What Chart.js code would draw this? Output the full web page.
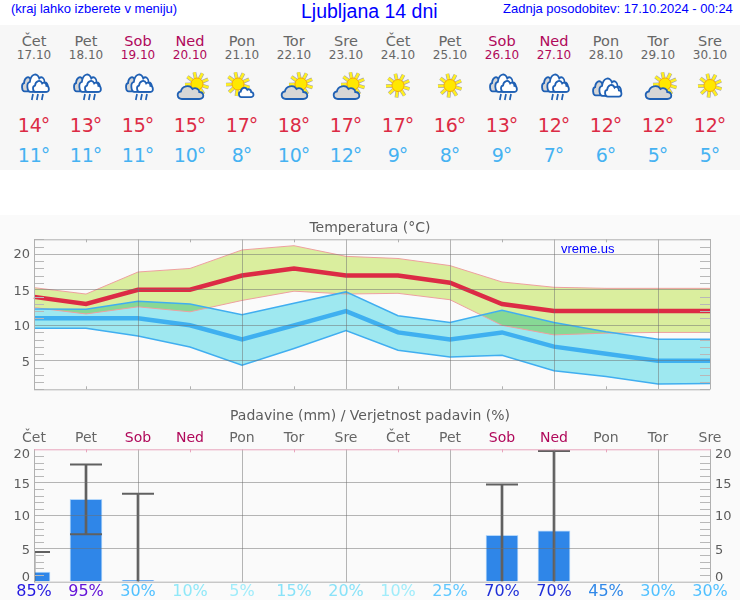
<!DOCTYPE html>
<html lang="sl">
<head>
<meta charset="utf-8">
<title>Ljubljana 14 dni</title>
<script src="https://cdn.jsdelivr.net/npm/chart.js@4"></script>
<style>
    html, body { margin: 0; padding: 0; background: #fafafa; }
    body { position: relative; width: 740px; height: 600px; overflow: hidden; font-family: "DejaVu Sans", sans-serif; }
    #head { position: absolute; left: 0; top: 0; width: 740px; height: 25px; background: #fff; color: #0000ff; font-family: "Liberation Sans", sans-serif; }
    #head span { position: absolute; white-space: nowrap; }
    #panel { position: absolute; left: 0; top: 25px; width: 740px; height: 145px; background: #f7f7f7; }
    #gap { position: absolute; left: 0; top: 170px; width: 740px; height: 45px; background: #fff; }
    .cell { position: absolute; top: 0; width: 52px; margin-left: -26px; height: 145px; text-align: center; white-space: nowrap; }
    .cell div { position: absolute; left: -10px; right: -10px; }
    .cell svg { position: absolute; left: 6px; top: 44px; }
    canvas { position: absolute; left: 0; }
    #brand { position: absolute; left: 561px; top: 241px; color: #0000ff; font: 13px "Liberation Sans", sans-serif; }
</style>
</head>
<body>
<div id="head">
    <span style="left:11px;top:1px;font-size:13px">(kraj lahko izberete v meniju)</span>
    <span style="left:301px;top:0;font-size:19.5px">Ljubljana 14 dni</span>
    <span style="left:503px;top:1px;font-size:13px">Zadnja posodobitev: 17.10.2024 - 00:24</span>
</div>
<div id="panel"></div>
<div id="gap"></div>
<canvas id="tempChart" width="740" height="185" style="top:215px"></canvas>
<canvas id="rainChart" width="740" height="200" style="top:400px"></canvas>
<div id="brand">vreme.us</div>

<script>
// Data
const dayNames = ['Čet', 'Pet', 'Sob', 'Ned', 'Pon', 'Tor', 'Sre', 'Čet', 'Pet', 'Sob', 'Ned', 'Pon', 'Tor', 'Sre'];
const dayDates = ['17.10', '18.10', '19.10', '20.10', '21.10', '22.10', '23.10', '24.10', '25.10', '26.10', '27.10', '28.10', '29.10', '30.10'];
const weatherKinds = ['rain', 'rain', 'rain', 'sunCloud', 'cloudSun', 'sunCloud', 'sunCloud', 'sun', 'sun', 'rain', 'rain', 'clouds', 'sunCloud', 'sun'];

const tempHigh = [14, 13, 15, 15, 17, 18, 17, 17, 16, 13, 12, 12, 12, 12];
const tempLow = [11, 11, 11, 10, 8, 10, 12, 9, 8, 9, 7, 6, 5, 5];
const highBandTop = [15.3, 14.4, 17.5, 18.0, 20.6, 21.2, 19.7, 19.4, 18.4, 16.1, 15.35, 15.2, 15.2, 15.2];
const highBandBottom = [12.5, 11.6, 12.6, 11.9, 13.5, 14.8, 14.4, 14.5, 13.6, 10.0, 8.65, 8.9, 9.0, 9.0];
const lowBandTop = [12.3, 12.25, 13.4, 13.0, 11.5, 13.1, 14.7, 11.35, 10.4, 12.1, 10.4, 9.1, 8.05, 8.05];
const lowBandBottom = [9.6, 9.6, 8.5, 6.95, 4.4, 6.75, 9.25, 6.5, 5.55, 5.8, 3.6, 2.8, 1.75, 1.8];
const tempTicks = [5, 10, 15, 20];

const rainAmount = [1.45, 12.45, 0.2, null, null, null, null, null, null, 7.0, 7.7, null, null, null];
const rainMax = [4.5, 17.7, 13.3, null, null, null, null, null, null, 14.7, 19.75, null, null, null];
const rainMin = [0, 7.15, 0, null, null, null, null, null, null, 0, 0, null, null, null];
const rainMinCap = [null, 7.15, null, null, null, null, null, null, null, null, null, null, null, null];
const rainChance = [85, 95, 30, 10, 5, 15, 20, 10, 25, 70, 70, 45, 30, 30];
const rainTicks = [0, 5, 10, 15, 20];

// Styles
const chanceColors = ['#2318e0', '#6414d8', '#50c0ff', '#90e8f8', '#a0ecfa', '#88e2f8', '#88e2f8', '#a0ecfa', '#60c8ff', '#2030d8', '#2030d8', '#3088e8', '#50c0ff', '#50c0ff'];
const tempTickNudge = [1.4, 1.4, 1.7, 0.5];
const rainTickNudge = [-4.4, 1.7, 1.5, 2, 5.7];
const GREY_TEXT = '#5c5c5c';
const GRID = 'rgba(110,110,110,0.5)';
const MINOR = '#b8b8b8';
const PINK = '#e8a4bc';

function dayColor(i) {
    return (i % 7 === 2 || i % 7 === 3) ? '#b0085a' : '#666666';
}

// Header panel with the 14 day columns
const OUTLINE = '#1f60b4';
const CLOUD = 'M6 14C1 14 0 7 5 6.5C6 1 14-1 17 4C20 2 24 4 24 7C29 7 30 14 24 14Z';

function cloudShape(x, y, sx, sy, fill) {
    return `<path d="${CLOUD}" transform="translate(${x} ${y}) scale(${sx} ${sy})" fill="${fill}" stroke="${OUTLINE}" stroke-width="1.8" vector-effect="non-scaling-stroke"/>`;
}

function sunShape(cx, cy, r, rays) {
    let out = '';
    for (let i = 0; i < 9; i++) {
        const a = i * Math.PI * 2 / 9 + 0.3;
        const line = `x1="${cx + Math.cos(a) * r}" y1="${cy + Math.sin(a) * r}" x2="${cx + Math.cos(a) * rays}" y2="${cy + Math.sin(a) * rays}"`;
        out += `<line ${line} stroke="#a0a0b8" stroke-width="3.8"/><line ${line} stroke="#fff020" stroke-width="2.6"/>`;
    }
    return out + `<circle cx="${cx}" cy="${cy}" r="${r}" fill="#ffe800" stroke="#f6a800" stroke-width="1"/>`;
}

function weatherIcon(kind) {
    let shapes = '';
    if (kind === 'sun') {
        shapes = sunShape(20, 16.5, 6, 12);
    } else if (kind === 'sunCloud') {
        shapes = sunShape(27, 15, 6, 12) + cloudShape(6, 16, 0.97, 1, '#d6d6d6');
    } else if (kind === 'cloudSun') {
        shapes = sunShape(16, 15, 6, 12) + cloudShape(16, 18, 0.55, 0.72, '#ffffff');
    } else if (kind === 'clouds') {
        shapes = cloudShape(6, 11, 0.62, 1.1, '#d6d6d6') + cloudShape(12, 8, 0.82, 1.35, '#ffffff') + cloudShape(18, 15, 0.62, 0.9, '#ffffff');
    } else {
        shapes = cloudShape(7, 7, 0.6, 1.1, '#d6d6d6') + cloudShape(12, 4, 0.78, 1.35, '#ffffff') + cloudShape(18, 11, 0.6, 0.85, '#ffffff');
        [19, 24, 29].forEach(x => {
            shapes += `<line x1="${x}" y1="25" x2="${x - 1.2}" y2="31" stroke="${OUTLINE}" stroke-width="1.7"/>`;
        });
    }
    return `<svg width="40" height="36" viewBox="0 0 40 36">${shapes}</svg>`;
}

const panel = document.getElementById('panel');
dayNames.forEach((name, i) => {
    const cell = document.createElement('div');
    cell.className = 'cell';
    cell.style.left = (34 + 52 * i) + 'px';
    cell.innerHTML =
        `<div style="top:8px;font-size:14.5px;color:${dayColor(i)}">${name}</div>` +
        `<div style="top:23px;font-size:12px;color:${dayColor(i)}">${dayDates[i]}</div>` +
        weatherIcon(weatherKinds[i]) +
        `<div style="top:89px;font-size:19px;color:#dc2b45">${tempHigh[i]}<span style="margin-left:-1px">°</span></div>` +
        `<div style="top:119px;font-size:19px;color:#45b2f2">${tempLow[i]}<span style="margin-left:-1px">°</span></div>`;
    panel.appendChild(cell);
});

function frameTicks(topColor, bottomTicks) {
    return {
        id: 'frameTicks',
        afterDraw(chart) {
            const { ctx, chartArea: a, scales } = chart;
            ctx.save();
            ctx.lineWidth = 1;
            ctx.strokeStyle = MINOR;
            ctx.beginPath();
            scales.y.ticks.forEach(t => {
                if (t.value % 5 === 0) return;
                const py = Math.round(scales.y.getPixelForValue(t.value)) + 0.5;
                ctx.moveTo(a.left, py); ctx.lineTo(a.left + 10, py);
                ctx.moveTo(a.right - 10, py); ctx.lineTo(a.right, py);
            });
            ctx.stroke();
            ctx.strokeStyle = topColor;
            ctx.beginPath();
            scales.x.ticks.forEach((t, i) => {
                if (i % 2 === 0) return;
                const px = Math.round(scales.x.getPixelForTick(i)) + 0.5;
                ctx.moveTo(px, a.top); ctx.lineTo(px, a.top + 3);
                if (bottomTicks) { ctx.moveTo(px, a.bottom - 3); ctx.lineTo(px, a.bottom); }
            });
            ctx.stroke();
            ctx.strokeStyle = '#b0b0b0';
            ctx.beginPath();
            ctx.moveTo(a.left + 0.5, a.bottom); ctx.lineTo(a.left + 0.5, a.top);
            ctx.moveTo(a.right + 0.5, a.bottom); ctx.lineTo(a.right + 0.5, a.top);
            ctx.moveTo(a.left, a.bottom + 0.5); ctx.lineTo(a.right, a.bottom + 0.5);
            ctx.stroke();
            ctx.strokeStyle = topColor;
            ctx.beginPath();
            ctx.moveTo(a.left, a.top + 0.5); ctx.lineTo(a.right + 1, a.top + 0.5);
            ctx.stroke();
            ctx.restore();
        }
    };
}

// Y labels sit a little off their gridlines in the reference, so they get a per tick nudge
function tickLabels(values, nudge, bothSides) {
    return {
        id: 'tickLabels',
        afterDraw(chart) {
            const { ctx, chartArea: a, scales } = chart;
            ctx.save();
            ctx.fillStyle = GREY_TEXT;
            ctx.font = '13px "DejaVu Sans"';
            ctx.textBaseline = 'middle';
            values.forEach((v, i) => {
                const py = scales.y.getPixelForValue(v) + nudge[i];
                ctx.textAlign = 'right';
                ctx.fillText(String(v), a.left - 4, py);
                if (bothSides) {
                    ctx.textAlign = 'left';
                    ctx.fillText(String(v), a.right + 5, py);
                }
            });
            ctx.restore();
        }
    };
}

// The two bands multiply where they overlap, that gives the green part
const bandBlend = {
    id: 'bandBlend',
    beforeDraw(chart) { chart.ctx.globalCompositeOperation = 'multiply'; },
    beforeDatasetsDraw(chart) { chart.ctx.globalCompositeOperation = 'source-over'; }
};

function lineSet(data, color, width, order, fill, fillColor) {
    return {
        data, borderColor: color, borderWidth: width, order,
        fill: fill || false, backgroundColor: fillColor || 'transparent',
        pointRadius: 0, tension: 0, borderJoinStyle: 'miter'
    };
}

// Empty axis on the right, only keeps the 30px margin so the title stays centred on the page
function rightMargin(min, max) {
    return {
        position: 'right', min, max,
        afterFit(scale) { scale.width = 30; },
        border: { display: false },
        ticks: { display: false },
        grid: { display: false, drawTicks: false }
    };
}

new Chart(document.getElementById('tempChart').getContext('2d'), {
    type: 'line',
    data: {
        labels: dayNames,
        datasets: [
            lineSet(highBandTop, '#eea0a0', 1, 6, '+1', 'rgb(218,238,158)'),
            lineSet(highBandBottom, '#eea0a0', 1, 6),
            lineSet(lowBandTop, '#40aef0', 1.5, 5, '+1', 'rgb(158,232,240)'),
            lineSet(lowBandBottom, '#40aef0', 1.5, 5),
            lineSet(tempLow, '#3fb0f0', 4.5, 2),
            lineSet(tempHigh, '#dc2b45', 4.5, 1)
        ]
    },
    plugins: [bandBlend, tickLabels(tempTicks, tempTickNudge, false), frameTicks('#b0b0b0', true)],
    options: {
        responsive: false,
        animation: false,
        events: [],
        layout: { padding: { bottom: 10.7 } },
        plugins: {
            legend: { display: false },
            tooltip: { enabled: false },
            filler: { drawTime: 'beforeDatasetsDraw' },
            title: {
                display: true,
                text: 'Temperatura (°C)',
                color: GREY_TEXT,
                font: { family: 'DejaVu Sans', size: 14, weight: 'normal', lineHeight: 1.2 },
                padding: { top: 5, bottom: 2.5 }
            }
        },
        scales: {
            x: {
                offset: false,
                afterFit(scale) { scale.height = 0; },
                ticks: { display: false, autoSkip: false },
                border: { display: false },
                grid: { z: 1, drawTicks: false, color: c => c.index % 2 === 0 ? GRID : 'transparent' }
            },
            y: {
                min: 1,
                max: 22.1,
                afterFit(scale) { scale.width = 34; },
                border: { display: false },
                ticks: { stepSize: 1, display: false, autoSkip: false },
                grid: { z: 1, drawTicks: false, color: c => c.tick.value % 5 === 0 ? GRID : 'transparent' }
            },
            yRight: rightMargin(1, 22.1)
        }
    }
});

new Chart(document.getElementById('rainChart').getContext('2d'), {
    data: {
        labels: rainChance.map(v => v + '%'),
        datasets: [
            { type: 'bar', data: rainAmount, backgroundColor: 'rgb(47,134,232)', borderColor: 'rgb(180,215,250)', borderWidth: 1, barThickness: 32, grouped: false, order: 3 },
            { type: 'bar', data: rainMin.map((low, i) => low === null ? null : [low, rainMax[i]]), backgroundColor: '#606060', barThickness: 2, grouped: false, order: 2 },
            { type: 'line', data: rainMax, showLine: false, clip: 0, pointStyle: 'line', pointRadius: 16, pointBorderWidth: 2, pointBorderColor: '#606060', order: 1 },
            { type: 'line', data: rainMinCap, showLine: false, clip: 0, pointStyle: 'line', pointRadius: 16, pointBorderWidth: 2, pointBorderColor: '#606060', order: 1 }
        ]
    },
    plugins: [tickLabels(rainTicks, rainTickNudge, true), frameTicks(PINK, false)],
    options: {
        responsive: false,
        animation: false,
        events: [],
        plugins: {
            legend: { display: false },
            tooltip: { enabled: false },
            title: {
                display: true,
                text: 'Padavine (mm) / Verjetnost padavin (%)',
                color: GREY_TEXT,
                font: { family: 'DejaVu Sans', size: 14, weight: 'normal', lineHeight: 1.2 },
                padding: { top: 8, bottom: 1 }
            }
        },
        scales: {
            x: {
                offset: false,
                afterFit(scale) { scale.height = 18.3; },
                border: { display: false },
                ticks: {
                    autoSkip: false,
                    maxRotation: 0,
                    padding: 2,
                    font: { family: 'DejaVu Sans', size: 16, lineHeight: 1 },
                    color: c => chanceColors[c.index]
                },
                grid: { z: 1, offset: false, drawTicks: false, color: c => c.index % 2 === 0 ? GRID : 'transparent' }
            },
            xDays: {
                type: 'category',
                position: 'top',
                labels: dayNames,
                offset: false,
                afterFit(scale) { scale.height = 23.5; },
                border: { display: false },
                grid: { display: false, drawTicks: false },
                ticks: {
                    autoSkip: false,
                    maxRotation: 0,
                    padding: 3,
                    font: { family: 'DejaVu Sans', size: 14 },
                    color: c => dayColor(c.index)
                }
            },
            y: {
                min: 0,
                max: 20,
                afterFit(scale) { scale.width = 34; },
                border: { display: false },
                ticks: { stepSize: 1, display: false, autoSkip: false },
                grid: { z: 1, drawTicks: false, color: c => (c.tick.value % 5 === 0 && c.tick.value > 0 && c.tick.value < 20) ? GRID : 'transparent' }
            },
            yRight: rightMargin(0, 20)
        }
    }
});
</script>
</body>
</html>
